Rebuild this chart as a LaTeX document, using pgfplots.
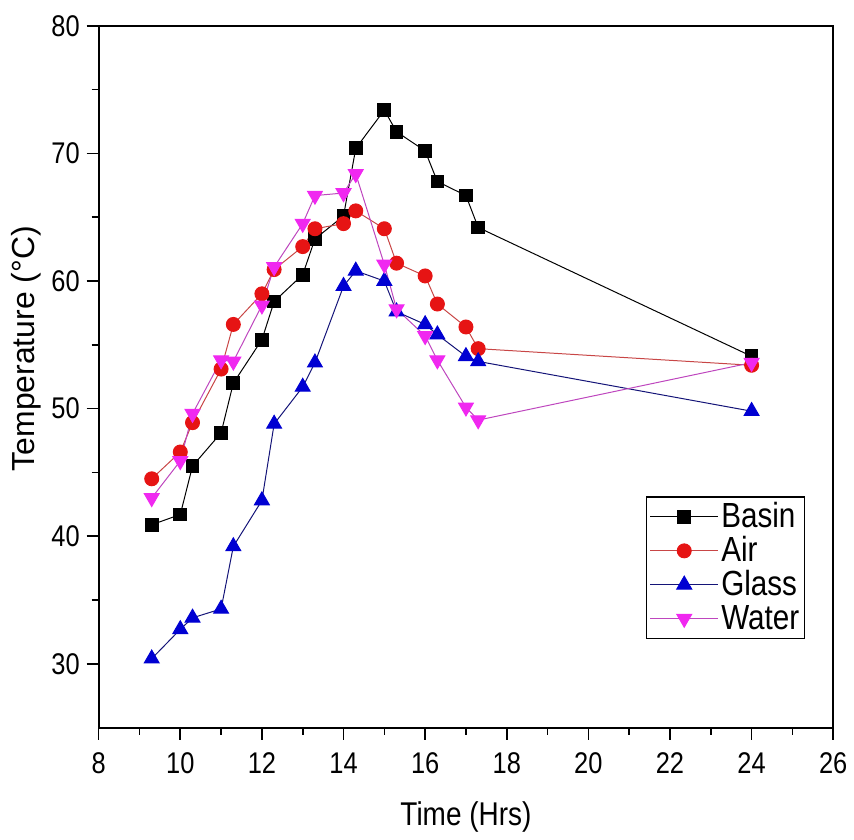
\documentclass[border=0pt]{standalone}
\usepackage{fontspec}
\setmainfont{Liberation Sans}
\newfontfamily\condfont{Liberation Sans}[FakeStretch=0.85]
\usepackage{pgfplots}
\pgfplotsset{compat=1.18}

\definecolor{airred}{RGB}{230,20,20}
\definecolor{airline}{RGB}{200,70,70}
\definecolor{glassblue}{RGB}{0,0,210}
\definecolor{glassline}{RGB}{20,20,120}
\definecolor{watermag}{RGB}{240,40,240}
\definecolor{waterline}{RGB}{190,70,190}

\begin{document}
\begin{tikzpicture}
\begin{axis}[
    name=ax,
    scale only axis,
    width=368.5pt, height=352pt,
    xmin=8, xmax=26, ymin=25, ymax=80,
    xtick={8,10,...,26}, ytick={30,40,...,80},
    minor x tick num=1, minor y tick num=1,
    xtick pos=bottom, ytick pos=left,
    tick align=outside,
    major tick length=6pt, minor tick length=3.5pt,
    axis line style={line width=1pt},
    every tick/.style={black, line width=0.8pt},
    /pgf/number format/assume math mode=true,
    tick label style={font=\condfont\fontsize{15}{15}\selectfont},
    xticklabel style={yshift=-3pt},
    xlabel={Time (Hrs)},
    ylabel={Temperature (°C)},
    xlabel style={font=\condfont\fontsize{16.5}{16.5}\selectfont, at={(axis description cs:0.5,-0.128)}, anchor=center},
    ylabel style={font=\fontsize{16}{16}\selectfont, at={(axis description cs:-0.098,0.54)}, anchor=center},
    legend style={at={(axis description cs:0.962,0.126)}, anchor=south east,
        draw=black, line width=0.6pt, font=\condfont\fontsize{17.5}{17.5}\selectfont,
        nodes={text height=12.5pt, text depth=2pt, inner sep=1.25pt},
        row sep=0pt, inner sep=1.5pt},
    legend cell align=left,
    legend image code/.code={\draw[mark repeat=2,mark phase=2] plot coordinates {(0cm,0cm) (0.6cm,0cm) (1.2cm,0cm)};},
]
\addplot[black, line width=0.5pt, mark=square*, mark size=3.2pt, mark options={solid, fill=black}]
    coordinates {(9.3,40.9)(10,41.7)(10.3,45.5)(11,48.1)(11.3,52.0)(12,55.4)(12.3,58.4)(13,60.5)(13.3,63.3)
    (14,65.1)(14.3,70.4)(15,73.4)(15.3,71.7)(16,70.2)(16.3,67.8)(17,66.7)(17.3,64.2)(24,54.1)};
\addlegendentry{Basin}
\addplot[airline, line width=0.5pt, mark=*, mark size=3.5pt, mark options={solid, draw=airred, fill=airred}]
    coordinates {(9.3,44.5)(10,46.6)(10.3,48.9)(11,53.1)(11.3,56.6)(12,59.0)(12.3,60.9)(13,62.7)(13.3,64.1)
    (14,64.5)(14.3,65.5)(15,64.1)(15.3,61.4)(16,60.4)(16.3,58.2)(17,56.4)(17.3,54.7)(24,53.4)};
\addlegendentry{Air}
\addplot[glassline, line width=0.5pt, mark=triangle*, mark size=4.3pt, mark options={solid, draw=glassblue, fill=glassblue}]
    coordinates {(9.3,30.4)(10,32.7)(10.3,33.6)(11,34.3)(11.3,39.2)(12,42.8)(12.3,48.8)(13,51.7)(13.3,53.6)
    (14,59.6)(14.3,60.8)(15,60.0)(15.3,57.6)(16,56.6)(16.3,55.8)(17,54.1)(17.3,53.7)(24,49.8)};
\addlegendentry{Glass}
\addplot[waterline, line width=0.5pt, mark=triangle*, mark size=4.3pt, mark options={solid, rotate=180, draw=watermag, fill=watermag}]
    coordinates {(9.3,43.0)(10,45.9)(10.3,49.6)(11,53.8)(11.3,53.7)(12,58.1)(12.3,61.1)(13,64.5)(13.3,66.7)
    (14,66.9)(14.3,68.4)(15,61.3)(15.3,57.8)(16,55.7)(16.3,53.8)(17,50.1)(17.3,49.1)(24,53.6)};
\addlegendentry{Water}
\end{axis}
\path ([shift={(-49.5pt,-55pt)}]ax.south west) rectangle ([shift={(9pt,13pt)}]ax.north east);
\end{tikzpicture}
\end{document}
